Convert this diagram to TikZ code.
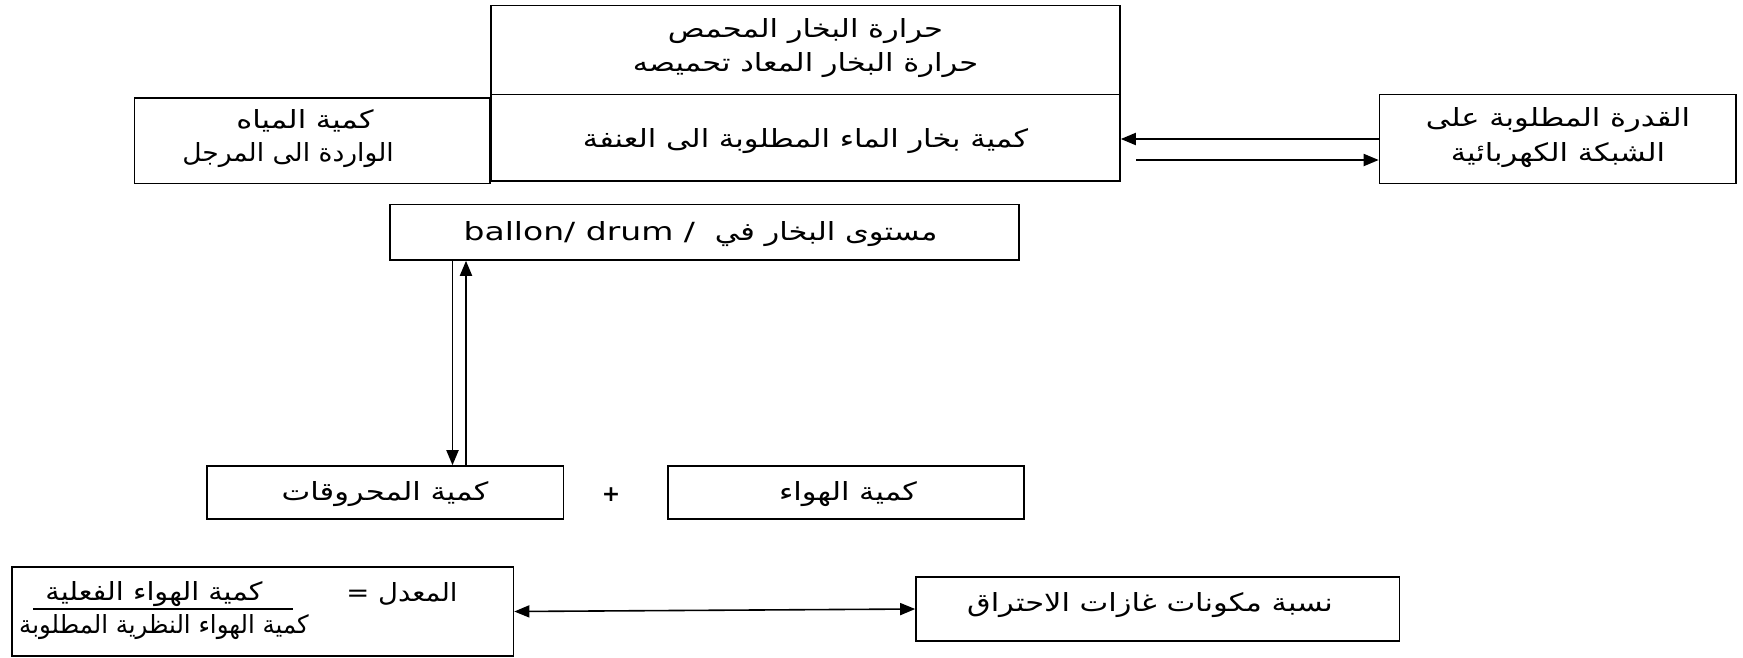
\documentclass[tikz,border=0pt]{standalone}
\usepackage{fontspec}
\usepackage{graphicx}
\setmainfont{DejaVu Sans}
\newfontfamily\af[Script=Arabic,FakeStretch=1.22]{DejaVu Sans}
\newfontfamily\lf[FakeStretch=1.32]{DejaVu Sans}
\newcommand\sx[2]{\scalebox{#1}[1]{#2}}
\TeXXeTstate=1
\usetikzlibrary{arrows.meta}
\begin{document}
\begin{tikzpicture}[x=1pt,y=-1pt,
 box/.style={draw,line width=1.6pt,inner sep=0pt},
 txt/.style={inner sep=0pt,font=\af\fontsize{25}{34.5}\selectfont,align=center},
 arr/.style={line width=1.9pt,-{Triangle[length=15pt,width=12pt]}},
 darr/.style={line width=1.6pt,{Triangle[length=15pt,width=12pt]}-{Triangle[length=15pt,width=12pt]}}]
\useasboundingbox[fill=white] (0,0) rectangle (1743,657);
% boxes
\node[box,minimum width=629pt,minimum height=89pt] (heat) at (805.5,50) {};
\node[box,minimum width=629pt,minimum height=86.5pt] (steam) at (805.5,137.75) {};
\node[box,minimum width=355.5pt,minimum height=85.5pt] (water) at (312.25,140.75) {};
\node[box,minimum width=356.5pt,minimum height=89pt] (grid) at (1557.75,139) {};
\node[box,minimum width=629pt,minimum height=55.5pt] (drum) at (704.5,232.25) {};
\node[box,minimum width=356.5pt,minimum height=53pt] (fuel) at (385.25,492.5) {};
\node[box,minimum width=356.5pt,minimum height=53pt] (air) at (846,492.5) {};
\node[box,minimum width=501.5pt,minimum height=89pt] (ratio) at (262.75,611.5) {};
\node[box,minimum width=483.5pt,minimum height=64pt] (gas) at (1157.75,609) {};
% texts
\node[txt] (heatT) at (805.5,48) {\beginR حرارة البخار المحمص\endR\\\beginR حرارة البخار المعاد تحميصه\endR};
\node[txt] (steamT) at (805.5,141) {\beginR كمية بخار الماء المطلوبة الى العنفة\endR};
\node[txt] (waterT1) at (305,121) {\beginR كمية المياه\endR};
\node[txt] (waterT2) at (288,155) {\sx{0.87}{\beginR الواردة الى المرجل\endR}};
\node[txt] (gridT) at (1558,137.5) {\beginR القدرة المطلوبة على\endR\\\beginR الشبكة الكهربائية\endR};
\node[txt] (drumT) at (700.5,234) {{\lf ballon/ drum /}\hspace{20pt}\beginR مستوى البخار في\endR};
\node[txt] (fuelT) at (385,494.5) {\beginR كمية المحروقات\endR};
\node[txt] (airT) at (848,494.5) {\beginR كمية الهواء\endR};
\node[txt,font=\bfseries\fontsize{22}{26}\selectfont] (plus) at (611,495) {+};
\node[txt] (gasT) at (1150,605) {\beginR نسبة مكونات غازات الاحتراق\endR};
\node[txt] (rEq) at (402,594) {\sx{0.9}{\beginR المعدل =\endR}};
\node[txt] (rNum) at (154,594) {\sx{0.94}{\beginR كمية الهواء الفعلية\endR}};
\node[txt] (rDen) at (164,627) {\sx{0.8}{\beginR كمية الهواء النظرية المطلوبة\endR}};
\coordinate (u1) at (33,609);
\coordinate (u2) at (293,609);
\draw[line width=1.6pt] (u1) -- (u2);
% connectors
\coordinate (dL) at (452.5,0);
\coordinate (dR) at (466,0);
\draw[arr] (drum.south -| dL) -- (fuel.north -| dL);
\draw[arr] (fuel.north -| dR) -- (drum.south -| dR);
\draw[arr] (grid.west) -- (steam.east |- grid.west);
\coordinate (g2) at (1136,160);
\draw[arr] (g2) -- (grid.west |- g2);
\draw[darr] (ratio.east) -- (gas.west);
\end{tikzpicture}
\end{document}
